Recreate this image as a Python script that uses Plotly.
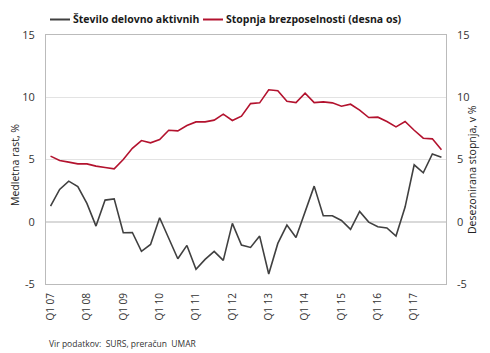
import plotly.graph_objects as go

years = ["07", "08", "09", "10", "11", "12", "13", "14", "15", "16", "17"]
quarters = [f"Q{q} {y}" for y in years for q in range(1, 5)]

aktivni = [1.26, 2.6, 3.26, 2.83, 1.47, -0.35, 1.74, 1.84,
           -0.88, -0.86, -2.38, -1.82, 0.32, -1.34, -2.97, -1.9,
           -3.82, -3.02, -2.38, -3.1, -0.13, -1.87, -2.06, -1.15,
           -4.2, -1.74, -0.27, -1.26, 0.86, 2.86, 0.48, 0.48,
           0.1, -0.61, 0.83, -0.03, -0.4, -0.5, -1.15, 1.18,
           4.57, 3.93, 5.45, 5.19]

brezposelnost = [5.27, 4.92, 4.79, 4.65, 4.65, 4.47, 4.36, 4.25,
                 5.0, 5.9, 6.52, 6.34, 6.6, 7.35, 7.3, 7.73,
                 8.02, 8.02, 8.16, 8.64, 8.13, 8.48, 9.49, 9.55,
                 10.6, 10.53, 9.68, 9.57, 10.32, 9.57, 9.63, 9.55,
                 9.28, 9.44, 8.96, 8.37, 8.4, 8.05, 7.62, 8.05,
                 7.35, 6.71, 6.66, 5.78]

series_names = ["Število delovno aktivnih", "Stopnja brezposelnosti (desna os)"]
series_colors = ["#404040", "#B3122E"]

tick_q = [q for q in quarters if q.startswith("Q1")]
y_ticks = [-5, 0, 5, 10, 15]
y_text = ["-5", "0", "5", "10", "15"]

FONT = "Open Sans"
W, H = 490, 353
L, R, T, B = 46, 44, 35, 69
PW, PH = W - L - R, H - T - B


def px(x):  # pixel x -> paper x
    return (x - L) / PW


def py(y):  # pixel y -> paper y
    return (H - B - y) / PH


fig = go.Figure()
fig.add_trace(go.Scatter(x=quarters, y=aktivni, mode="lines", name=series_names[0],
                         line=dict(color=series_colors[0], width=1.6), yaxis="y"))
fig.add_trace(go.Scatter(x=quarters, y=brezposelnost, mode="lines", name=series_names[1],
                         line=dict(color=series_colors[1], width=1.6), yaxis="y2"))

# manual legend
leg_x = [50, 203]
shapes, annots = [], []
for lx, name, col in zip(leg_x, series_names, series_colors):
    shapes.append(dict(type="line", xref="paper", yref="paper", x0=px(lx), x1=px(lx + 20),
                       y0=py(19.5), y1=py(19.5), line=dict(color=col, width=2)))
    annots.append(dict(text=f"<b>{name}</b>", xref="paper", yref="paper", x=px(lx + 21), y=py(19.5),
                       xanchor="left", yanchor="middle", showarrow=False,
                       font=dict(family=FONT, size=10.5, color="#1a1a1a")))

# axis titles
annots.append(dict(text="Medletna rast, %", xref="paper", yref="paper", x=px(15), y=py(165),
                   xanchor="center", yanchor="middle", textangle=-90, showarrow=False,
                   font=dict(family=FONT, size=10.5, color="#222222")))
annots.append(dict(text="Desezonirana stopnja, v %", xref="paper", yref="paper", x=px(472), y=py(170),
                   xanchor="center", yanchor="middle", textangle=-90, showarrow=False,
                   font=dict(family=FONT, size=10.5, color="#222222")))
# source
annots.append(dict(text="Vir podatkov:  SURS, preračun  UMAR", xref="paper", yref="paper",
                   x=px(47), y=py(343), xanchor="left", yanchor="middle", showarrow=False,
                   font=dict(family=FONT, size=8.5, color="#333333")))

fig.update_layout(
    width=W, height=H,
    margin=dict(l=L, r=R, t=T, b=B, autoexpand=False),
    paper_bgcolor="white", plot_bgcolor="white",
    font=dict(family=FONT, size=11, color="#333333"),
    showlegend=False,
    xaxis=dict(type="category", range=[-0.5, 43.5], tickmode="array", tickvals=tick_q, ticktext=tick_q,
               tickangle=-90, showgrid=False, showline=True, linecolor="#BBBBBB", linewidth=1,
               mirror=True, ticks="", tickfont=dict(size=10, color="#333333"), ticklabelstandoff=4),
    yaxis=dict(range=[-5, 15], tickmode="array", tickvals=y_ticks, ticktext=y_text,
               showgrid=True, gridcolor="#E3E3E3", gridwidth=1.2, zeroline=True, zerolinecolor="#D9D9D9",
               zerolinewidth=1.5, showline=True, linecolor="#BBBBBB", mirror=True,
               ticks="", ticklabelstandoff=8, tickfont=dict(size=11, color="#333333")),
    yaxis2=dict(range=[-5, 15], tickmode="array", tickvals=y_ticks, ticktext=y_text, overlaying="y",
                side="right", showgrid=False, zeroline=False, showline=False, ticks="",
                ticklabelstandoff=10, tickfont=dict(size=11, color="#333333")),
    shapes=shapes,
    annotations=annots,
)

fig.write_html("out.html")
